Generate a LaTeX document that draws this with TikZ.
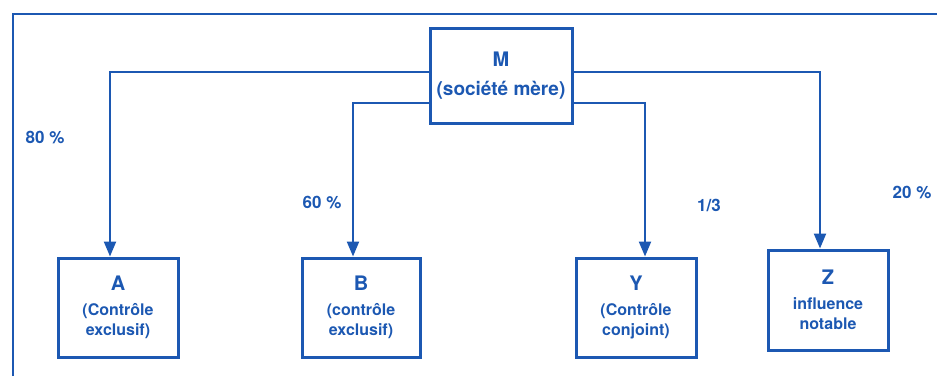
\documentclass[tikz,border=0pt]{standalone}
\usepackage{fontspec}
\setmainfont{TeX Gyre Heros}
\usetikzlibrary{arrows.meta}
\definecolor{inkblue}{RGB}{28,88,178}
\newcommand\firmname[1]{{\fontsize{20}{22}\selectfont #1}}

\begin{document}
\begin{tikzpicture}[x=1pt,y=-1pt,->,>={Triangle[length=15pt,width=12pt]},
  color=inkblue,line width=2.3pt,
  firm/.style={draw,line width=3pt,inner sep=2pt,align=center,
    font=\bfseries\fontsize{16}{20}\selectfont},
  share/.style={font=\bfseries\fontsize{17}{20}\selectfont}]
  \useasboundingbox (0,0) rectangle (937,376);
  % cadre
  \draw[-] (13,376) -- (13,14) -- (937,14);
  \node[firm, minimum width=142pt, minimum height=95pt,
    font=\bfseries\fontsize{19}{22}\selectfont] (M) at (501,75.5) {\firmname{M}\\[7pt](société mère)};
  \node[firm, minimum width=120pt, minimum height=99pt] (A) at (118,307.5) {\firmname{A}\\[5pt](Contrôle\\exclusif)};
  \node[firm, minimum width=118pt, minimum height=99pt] (B) at (361,307.5) {\firmname{B}\\[5pt](contrôle\\exclusif)};
  \node[firm, minimum width=120pt, minimum height=99pt] (Y) at (636,307.5) {\firmname{Y}\\[5pt](Contrôle\\conjoint)};
  \node[firm, minimum width=120pt, minimum height=100pt] (Z) at (828,300) {\firmname{Z}\\[5pt]influence\\notable};
  \draw ([yshift=3.5pt]M.west) -| ([xshift=-8pt]A.north);
  \draw ([yshift=-27.5pt]M.west) -| ([xshift=-8pt]B.north);
  \draw ([yshift=-27.5pt]M.east) -| ([xshift=9pt]Y.north);
  \draw ([yshift=3.5pt]M.east) -| ([xshift=-8pt]Z.north);
  \node[share] (pa) at (45,138) {80 \%};
  \node[share] (pb) at (322,203) {60 \%};
  \node[share] (py) at (709,205) {1/3};
  \node[share] (pz) at (912,193) {20 \%};
\end{tikzpicture}
\end{document}
